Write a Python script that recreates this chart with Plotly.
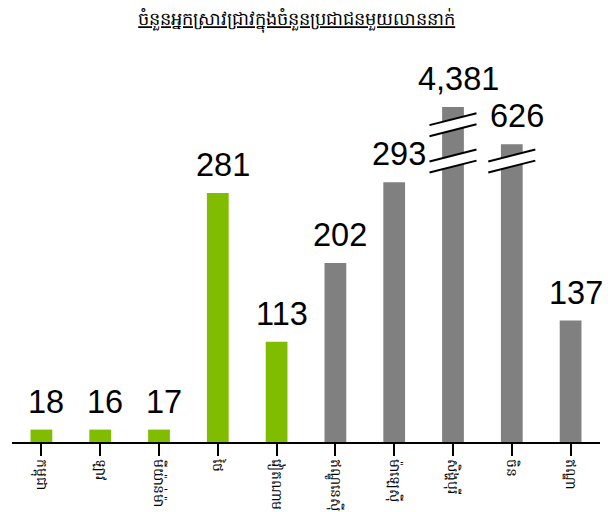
import plotly.graph_objects as go

# ---- data ----
title_text = "ចំនួនអ្នកស្រាវជ្រាវក្នុងចំនួនប្រជាជនមួយលាននាក់"
categories = ["កម្ពុជា", "ឡាវ", "មីយ៉ាន់ម៉ា", "ថៃ", "វៀតណាម",
              "ឥណ្ឌូនេស៊ី", "ម៉ាឡេស៊ី", "សិង្ហបុរី", "ចិន", "ឥណ្ឌា"]
values = [18, 16, 17, 281, 113, 202, 293, 4381, 626, 137]
# heights as drawn in the picture (the two largest bars are shown with a broken axis)
drawn_heights = [14, 14, 14, 281, 113, 202, 293, 378, 336, 137]
groups = ["green"] * 5 + ["grey"] * 5
# axis-break marks: (bar index, lower line height at left edge)
breaks = [(7, 345), (7, 304), (8, 304)]

GREEN = "#80bc00"
GREY = "#808080"
colors = [GREEN if g == "green" else GREY for g in groups]

x_idx = list(range(len(categories)))

fig = go.Figure()
fig.add_trace(go.Bar(
    x=x_idx, y=drawn_heights, marker=dict(color=colors, line=dict(width=0)),
    width=0.37, hoverinfo="skip",
))

for i, (v, h) in enumerate(zip(values, drawn_heights)):
    fig.add_annotation(x=i, y=h, text=f"{v:,}", showarrow=False,
                       xanchor="center", yanchor="bottom", yshift=8, xshift=5,
                       font=dict(family="Liberation Sans, Arial", size=32.5, color="black"))

half = 0.4
gap = 12.5
rise = 13.5
for idx, y0 in breaks:
    xl, xr = idx - half, idx + half
    # white gap between the two slanted lines
    fig.add_shape(type="path",
                  path=f"M {xl},{y0} L {xr},{y0 + rise} L {xr},{y0 + rise + gap} L {xl},{y0 + gap} Z",
                  fillcolor="white", line=dict(width=0), xref="x", yref="y", layer="above")
    for yy in (y0, y0 + gap):
        fig.add_shape(type="line", x0=xl, y0=yy, x1=xr, y1=yy + rise,
                      line=dict(color="black", width=2), xref="x", yref="y", layer="above")

fig.update_layout(
    width=608, height=512,
    margin=dict(l=12, r=8, t=60, b=70),
    paper_bgcolor="white", plot_bgcolor="white",
    showlegend=False,
    title=dict(text=f"<u>{title_text}</u>", x=0.488, xanchor="center", y=0.975, yanchor="top",
               font=dict(family="Noto Sans, DejaVu Sans, sans-serif", size=17.8, color="black")),
    xaxis=dict(
        range=[-0.5, 9.5], tickmode="array", tickvals=x_idx, ticktext=categories,
        tickangle=90, ticks="outside", ticklen=12, tickwidth=2, tickcolor="black",
        tickson="boundaries", showline=True, linecolor="black", linewidth=2,
        showgrid=False, zeroline=False, automargin=False,
        tickfont=dict(family="Noto Sans, DejaVu Sans, sans-serif", size=14, color="black"),
    ),
    yaxis=dict(range=[0, 431], visible=False, showgrid=False, zeroline=False),
)

fig.write_html("out.html", config={"displayModeBar": False},
               post_script="document.body.style.margin='0';document.body.style.overflow='hidden';")
